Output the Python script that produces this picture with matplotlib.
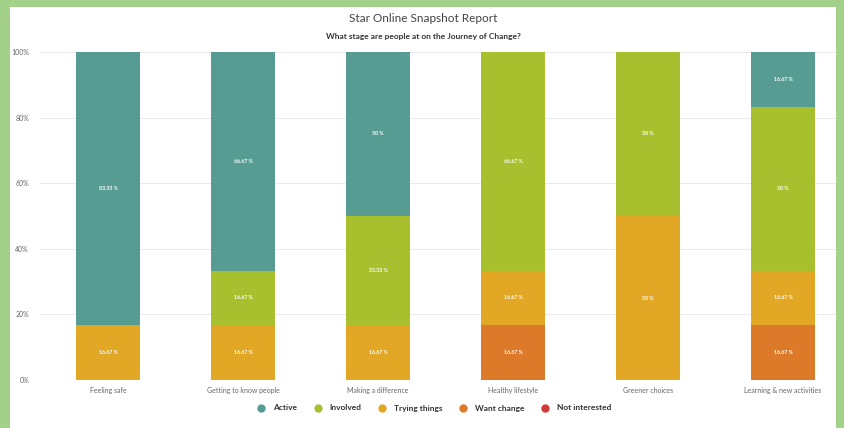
import matplotlib.pyplot as plt
from matplotlib.patches import Rectangle
from matplotlib.lines import Line2D

plt.rcParams['font.family'] = ['Lato', 'DejaVu Sans']

categories = ["Feeling safe", "Getting to know people", "Making a difference",
              "Healthy lifestyle", "Greener choices", "Learning & new activities"]
# stacked bottom-up: Not interested, Want change, Trying things, Involved, Active
not_interested = [0, 0, 0, 0, 0, 0]
want_change = [0, 0, 0, 16.67, 0, 16.67]
trying_things = [16.67, 16.67, 16.67, 16.67, 50, 16.67]
involved = [0, 16.67, 33.33, 66.67, 50, 50]
active = [83.33, 66.67, 50, 0, 0, 16.67]

series = [
    ("Not interested", not_interested, "#cf3a3a"),
    ("Want change", want_change, "#dd7a2a"),
    ("Trying things", trying_things, "#e3a726"),
    ("Involved", involved, "#a8bf2e"),
    ("Active", active, "#579c92"),
]
legend_order = ["Active", "Involved", "Trying things", "Want change", "Not interested"]

fig = plt.figure(figsize=(8.45, 4.28), dpi=100)
fig.patch.set_facecolor("#a3d18a")
# white panel inside the green frame
fig.add_artist(Rectangle((10 / 845, 0), (836 - 10) / 845, 1 - 7 / 428,
                         transform=fig.transFigure, facecolor="white",
                         edgecolor="none", zorder=0))

ax = fig.add_axes([40 / 845, 1 - 380 / 428, (836 - 40) / 845, 328 / 428])
ax.set_facecolor("none")

x = list(range(len(categories)))
bottom = [0] * len(categories)
for name, vals, color in series:
    ax.bar(x, vals, bottom=bottom, width=0.475, color=color, zorder=3)
    for i, v in enumerate(vals):
        if v > 0:
            txt = ("%.2f" % v).rstrip("0").rstrip(".") + " %"
            ax.text(i, bottom[i] + v / 2, txt, ha="center", va="center",
                    color="white", fontsize=3.8, fontweight="bold", zorder=4)
    bottom = [b + v for b, v in zip(bottom, vals)]

ax.set_xlim(-0.504, 5.393)
ax.set_ylim(0, 100)
ax.set_yticks([0, 20, 40, 60, 80, 100])
ax.set_yticklabels(["0%", "20%", "40%", "60%", "80%", "100%"])
ax.set_xticks(x)
ax.set_xticklabels(categories)
ax.tick_params(axis="both", length=0, labelsize=5, colors="#666666")
ax.tick_params(axis="y", pad=8)
ax.tick_params(axis="x", pad=5)
ax.grid(axis="y", color="#e6e6e6", linewidth=0.6, zorder=0)
for s in ax.spines.values():
    s.set_visible(False)

fig.text(423 / 845, 1 - 18 / 428, "Star Online Snapshot Report", ha="center",
         va="center", fontsize=8.5, color="#444444")
fig.text(423 / 845, 1 - 37 / 428, "What stage are people at on the Journey of Change?",
         ha="center", va="center", fontsize=6, fontweight="bold", color="#333333")

colors = {n: c for n, _, c in series}
handles = [Line2D([], [], marker="o", linestyle="none", markersize=6,
                  markerfacecolor=colors[n], markeredgecolor="none") for n in legend_order]
leg = fig.legend(handles, legend_order, loc="center", bbox_to_anchor=(432 / 845, 1 - 408 / 428),
                 ncol=5, frameon=False, fontsize=6, handletextpad=0.4, columnspacing=1.5)
for t in leg.get_texts():
    t.set_fontweight("bold")
    t.set_color("#333333")

fig.savefig("out.png", dpi=100, facecolor=fig.get_facecolor())
